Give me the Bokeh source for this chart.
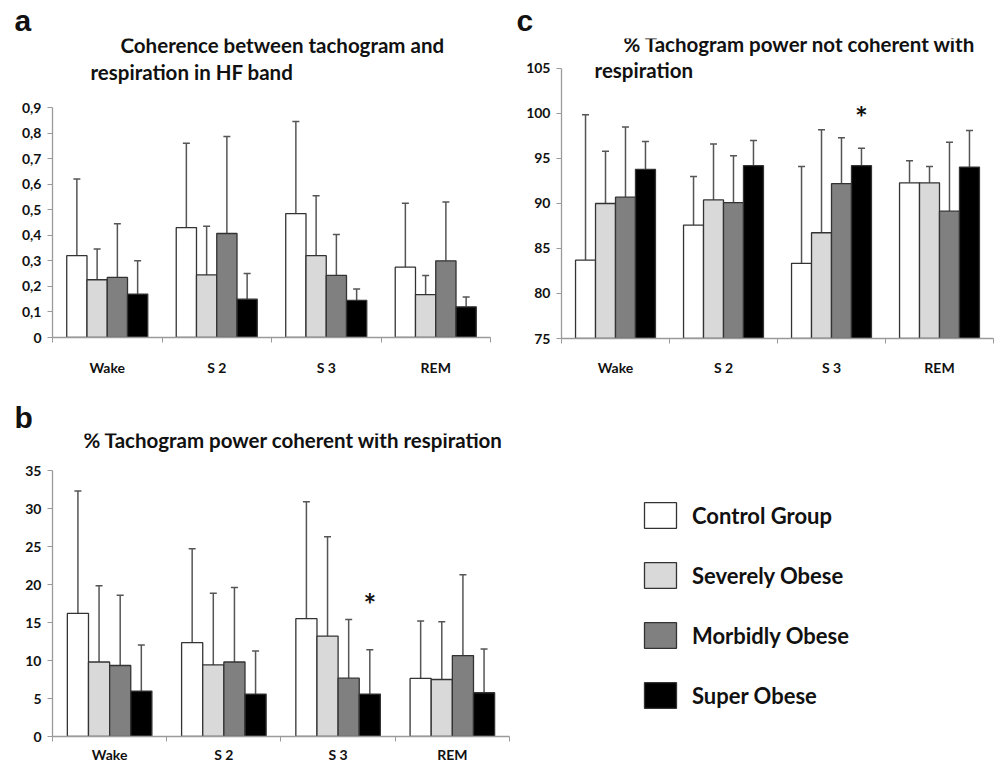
import numpy as np
from bokeh.plotting import figure
from bokeh.models import (Range1d, FixedTicker, Legend, LegendItem, Whisker,
                          TeeHead, ColumnDataSource, Title)
from bokeh.layouts import row, column
from bokeh.embed import file_html
from bokeh.resources import INLINE
from bokeh.core.properties import value

# ---------------- data ----------------
stages = ["Wake", "S 2", "S 3", "REM"]
groups = ["Control Group", "Severely Obese", "Morbidly Obese", "Super Obese"]
group_colors = ["#ffffff", "#d9d9d9", "#808080", "#000000"]

# (a) Coherence between tachogram and respiration in HF band  (mean, SD per stage)
coh_control = [0.32, 0.43, 0.485, 0.275]
coh_severe = [0.226, 0.245, 0.32, 0.168]
coh_morbid = [0.235, 0.407, 0.243, 0.30]
coh_super = [0.17, 0.15, 0.145, 0.12]
coh_control_sd = [0.30, 0.33, 0.36, 0.25]
coh_severe_sd = [0.12, 0.19, 0.235, 0.075]
coh_morbid_sd = [0.21, 0.38, 0.16, 0.23]
coh_super_sd = [0.13, 0.10, 0.045, 0.038]
coh_yticks = [0, 0.1, 0.2, 0.3, 0.4, 0.5, 0.6, 0.7, 0.8, 0.9]
coh_ytick_labels = ["0", "0,1", "0,2", "0,3", "0,4", "0,5", "0,6", "0,7", "0,8", "0,9"]

# (b) % Tachogram power coherent with respiration
pc_control = [16.2, 12.35, 15.5, 7.64]
pc_severe = [9.8, 9.42, 13.2, 7.5]
pc_morbid = [9.34, 9.8, 7.68, 10.65]
pc_super = [5.98, 5.58, 5.58, 5.76]
pc_control_sd = [16.1, 12.35, 15.4, 7.56]
pc_severe_sd = [10.05, 9.43, 13.1, 7.6]
pc_morbid_sd = [9.26, 9.8, 7.72, 10.65]
pc_super_sd = [6.06, 5.68, 5.82, 5.74]
pc_yticks = [0, 5, 10, 15, 20, 25, 30, 35]
pc_ytick_labels = ["0", "5", "10", "15", "20", "25", "30", "35"]
pc_star_stage, pc_star_group, pc_star_y = "S 3", "Super Obese", 17.4

# (c) % Tachogram power not coherent with respiration
nc_control = [83.7, 87.6, 83.35, 92.3]
nc_severe = [90.0, 90.4, 86.75, 92.3]
nc_morbid = [90.7, 90.1, 92.2, 89.15]
nc_super = [93.8, 94.2, 94.2, 94.05]
nc_control_sd = [16.15, 5.4, 10.75, 2.45]
nc_severe_sd = [5.8, 6.2, 11.45, 1.8]
nc_morbid_sd = [7.8, 5.2, 5.1, 7.65]
nc_super_sd = [3.1, 2.8, 1.95, 4.05]
nc_yticks = [75, 80, 85, 90, 95, 100, 105]
nc_ytick_labels = ["75", "80", "85", "90", "95", "100", "105"]
nc_star_stage, nc_star_group, nc_star_y = "S 3", "Super Obese", 99.6

# ---------------- style ----------------
FONT = "Lato"
LETTER_FONT = "Liberation Sans"
TEXT_COLOR = "#111111"
AXIS_GRAY = "#9a9a9a"
BAR_LINE = "#333333"
ERR_COLOR = "#555555"
BAR_W = 0.185

centers = [i + 0.5 for i in range(len(stages))]
offsets = [(i - 1.5) * BAR_W for i in range(len(groups))]


def bar_panel(means, sds, ylo, ytop, yhi, xhi, yticks, ylabels, width, height,
              bl, br, bt, bb, xstandoff):
    p = figure(width=width, height=height, output_backend="svg", toolbar_location=None,
               x_range=Range1d(0, xhi), y_range=Range1d(ylo, yhi),
               min_border_left=bl, min_border_right=br, min_border_top=bt,
               min_border_bottom=bb, frame_align=False)
    p.xgrid.visible = False
    p.ygrid.visible = False
    p.outline_line_color = None
    p.background_fill_color = "white"
    renderers = []
    for gi, (m, s, c) in enumerate(zip(means, sds, group_colors)):
        m = np.array(m)
        s = np.array(s)
        src = ColumnDataSource(dict(x=[cc + offsets[gi] for cc in centers],
                                    top=m, upper=m + s))
        r = p.vbar(x="x", top="top", bottom=ylo, width=BAR_W, source=src,
                   fill_color=c, line_color=BAR_LINE, line_width=1.3)
        renderers.append(r)
        p.add_layout(Whisker(source=src, base="x", lower="top", upper="upper",
                             line_color=ERR_COLOR, line_width=1.5, lower_head=None,
                             upper_head=TeeHead(size=7, line_color=ERR_COLOR, line_width=1.5)))
    # axes
    xa = p.xaxis[0]
    xa.bounds = (0, len(stages))
    xa.ticker = FixedTicker(ticks=centers, minor_ticks=list(range(len(stages) + 1)))
    xa.major_label_overrides = {c: s for c, s in zip(centers, stages)}
    xa.major_tick_line_color = None
    xa.major_tick_in = 0
    xa.major_tick_out = 0
    xa.minor_tick_in = 0
    xa.minor_tick_out = 5
    xa.minor_tick_line_color = AXIS_GRAY
    xa.major_label_standoff = xstandoff
    ya = p.yaxis[0]
    ya.bounds = (ylo, ytop)
    ya.ticker = FixedTicker(ticks=yticks, minor_ticks=[])
    ya.major_label_overrides = {t: l for t, l in zip(yticks, ylabels)}
    ya.major_tick_in = 0
    ya.major_tick_out = 5
    ya.major_tick_line_color = AXIS_GRAY
    ya.minor_tick_line_color = None
    ya.major_label_standoff = 6
    for ax in (xa, ya):
        ax.axis_line_color = AXIS_GRAY
        ax.axis_line_width = 1.3
        ax.major_label_text_font = FONT
        ax.major_label_text_font_style = "bold"
        ax.major_label_text_font_size = "14px"
        ax.major_label_text_color = TEXT_COLOR
    return p, renderers


def add_letter(p, letter, offset, valign):
    p.add_layout(Title(text=letter, align="left", offset=offset, standoff=0,
                       vertical_align=valign,
                       text_font=LETTER_FONT, text_font_style="bold",
                       text_font_size="30px", text_color=TEXT_COLOR), "above")


def add_lines(p, xs, ys, texts):
    p.text(x=xs, y=ys, text=texts, text_font=value(FONT), text_font_size=value("20.5px"),
           text_font_style="bold", text_align="left", text_baseline="alphabetic",
           text_color=TEXT_COLOR)


def add_star(p, stage, group, y):
    x = centers[stages.index(stage)] + offsets[groups.index(group)]
    p.text(x=[x], y=[y], text=["*"], text_font=value(FONT), text_font_size=value("30px"),
           text_font_style="bold", text_align="center", text_baseline="middle",
           text_color=TEXT_COLOR)


# panel a
pa, _ = bar_panel([coh_control, coh_severe, coh_morbid, coh_super],
                  [coh_control_sd, coh_severe_sd, coh_morbid_sd, coh_super_sd],
                  0, 0.9, 1.17, len(stages), coh_yticks, coh_ytick_labels,
                  493, 395, 52, 3, 38, 58, 16)
add_letter(pa, "a", -38, "top")
add_lines(pa, [0.621, 0.347], [1.146, 1.040],
          ["Coherence between tachogram and", "respiration in HF band"])

# panel c
pc_fig, _ = bar_panel([nc_control, nc_severe, nc_morbid, nc_super],
                      [nc_control_sd, nc_severe_sd, nc_morbid_sd, nc_super_sd],
                      75, 105, 108.33, len(stages), nc_yticks, nc_ytick_labels,
                      503, 395, 68, 3, 38, 57, 15)
add_letter(pc_fig, "c", -45, "top")
add_lines(pc_fig, [0.574, 0.306], [107.67, 104.78],
          ["% Tachogram power  not coherent with", "respiration"])
add_star(pc_fig, nc_star_stage, nc_star_group, nc_star_y)

# panel b + legend (frame extends right, x axis bounded to the four stages)
pb, pb_renderers = bar_panel([pc_control, pc_severe, pc_morbid, pc_super],
                             [pc_control_sd, pc_severe_sd, pc_morbid_sd, pc_super_sd],
                             0, 35, 39.87, 8.228, pc_yticks, pc_ytick_labels,
                             996, 370, 52, 4, 38, 29, 4)
add_letter(pb, "b", -38, "bottom")
add_lines(pb, [0.271], [39.08], ["% Tachogram power coherent with respiration"])
add_star(pb, pc_star_stage, pc_star_group, pc_star_y)

items = [LegendItem(label=g, renderers=[r]) for g, r in zip(groups, pb_renderers)]
leg = Legend(items=items, location=(588, 25), glyph_width=40, glyph_height=32,
             label_height=32, spacing=28, label_standoff=12, padding=0, margin=0,
             border_line_color=None, background_fill_alpha=0,
             label_text_font=FONT, label_text_font_style="bold",
             label_text_font_size="22px", label_text_color=TEXT_COLOR)
pb.add_layout(leg)

layout = column(row(pa, pc_fig), pb)
open("out.html", "w").write(file_html(layout, INLINE))
